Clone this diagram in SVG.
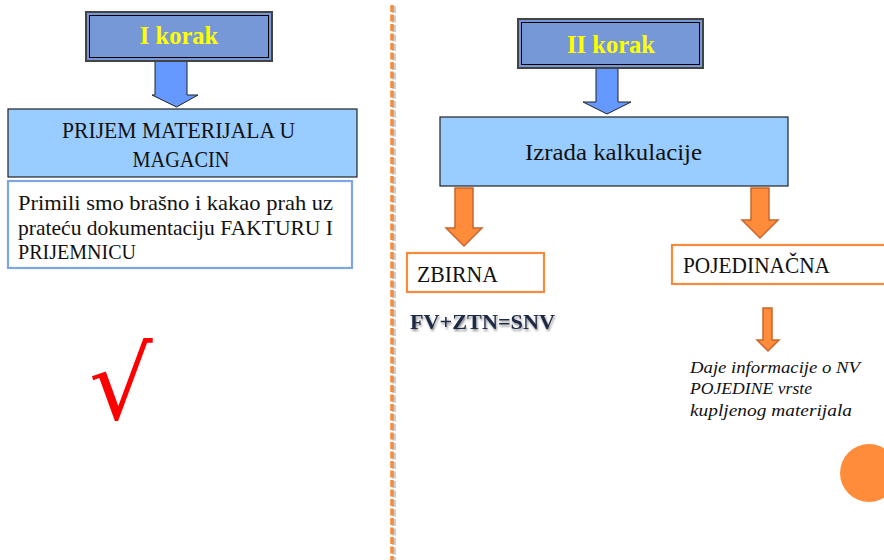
<svg xmlns="http://www.w3.org/2000/svg" width="884" height="560" viewBox="0 0 884 560">
<defs>
<style>
.step{fill:#7698D6;stroke:#444;stroke-width:2}
.stepin{fill:none;stroke:#000;stroke-width:1}
.steptxt{font-family:"Liberation Serif",serif;font-weight:bold;font-size:24.5px;fill:#FFFF00;text-anchor:middle}
.main{fill:#99CCFF;stroke:#222;stroke-width:1.2}
.maintxt{font-family:"Liberation Serif",serif;font-size:24px;fill:#111;text-anchor:middle}
.note{fill:#fff;stroke:#7EA6E0;stroke-width:2.2}
.notetxt{font-family:"Liberation Serif",serif;font-size:21px;fill:#111}
.obox{fill:#fff;stroke:#F58B3B;stroke-width:2.2}
.otxt{font-family:"Liberation Serif",serif;font-size:22.5px;fill:#111}
.barrow{fill:#6699FF;stroke:#222;stroke-width:1}
.oarrow{fill:#FF8C3A;stroke:#C8662C;stroke-width:1.5}
.ital{font-family:"Liberation Serif",serif;font-style:italic;font-size:17.5px;fill:#111}
</style>
<filter id="sh" x="-10%" y="-20%" width="130%" height="150%">
<feGaussianBlur in="SourceAlpha" stdDeviation="1"/>
<feOffset dx="1" dy="1.5" result="b"/>
<feFlood flood-color="#000" flood-opacity="0.45"/>
<feComposite in2="b" operator="in"/>
<feMerge><feMergeNode/><feMergeNode in="SourceGraphic"/></feMerge>
</filter>
</defs>
<rect width="884" height="560" fill="#fff"/>

<g id="divider">
<line x1="393" y1="5" x2="393" y2="560" stroke="#ccc" stroke-width="4" stroke-dasharray="7 2.5" transform="translate(1,1)"/>
<line x1="392" y1="5" x2="392" y2="560" stroke="#F58B3B" stroke-width="3.5" stroke-dasharray="7 2.5"/>
</g>

<g id="connectors">
<polygon class="barrow" points="155,61 187,61 187,95 198,95 176.5,107 152,95 155,95"/>
<polygon class="barrow" points="596,68 618,68 618,102 631,102 607,114 583,102 596,102"/>
<polygon class="oarrow" points="455,188 473,188 473,228 482,228 464,246 446,228 455,228"/>
<polygon class="oarrow" points="751,188 769,188 769,220 778,220 760,238 742,220 751,220"/>
<polygon class="oarrow" points="763,308 772,308 772,340 779,340 768,351 757,340 763,340"/>
</g>

<g id="step1">
<rect class="step" x="86" y="12" width="186" height="49"/>
<rect class="stepin" x="89.5" y="15.5" width="179" height="42"/>
<text class="steptxt" x="179" y="44">I korak</text>
</g>

<g id="prijem">
<rect class="main" x="8" y="109" width="349" height="68"/>
<text class="maintxt" x="178.5" y="138" textLength="233" lengthAdjust="spacingAndGlyphs">PRIJEM MATERIJALA U</text>
<text class="maintxt" x="181" y="167" textLength="97" lengthAdjust="spacingAndGlyphs">MAGACIN</text>
</g>

<g id="note1">
<rect class="note" x="8" y="181" width="344" height="87"/>
<text class="notetxt" x="18" y="210" textLength="315" lengthAdjust="spacingAndGlyphs">Primili smo brašno i kakao prah uz</text>
<text class="notetxt" x="18" y="235" textLength="315" lengthAdjust="spacingAndGlyphs">prateću dokumentaciju FAKTURU I</text>
<text class="notetxt" x="18" y="259" textLength="118" lengthAdjust="spacingAndGlyphs">PRIJEMNICU</text>
</g>

<g id="check">
<text x="89" y="419" font-family="DejaVu Sans,sans-serif" font-size="100" fill="#FF0000">√</text>
</g>

<g id="step2">
<rect class="step" x="518" y="19" width="185" height="49"/>
<rect class="stepin" x="521.5" y="22.5" width="178" height="42"/>
<text class="steptxt" x="611" y="53">II korak</text>
</g>

<g id="izrada">
<rect class="main" x="440" y="117" width="348" height="69"/>
<text class="maintxt" x="613.5" y="160" textLength="177" lengthAdjust="spacingAndGlyphs">Izrada kalkulacije</text>
</g>

<g id="zbirna">
<rect class="obox" x="407" y="253" width="137" height="39"/>
<text class="otxt" x="417" y="282" textLength="81" lengthAdjust="spacingAndGlyphs">ZBIRNA</text>
</g>

<g id="formula">
<text x="410" y="329" font-family="Liberation Serif,serif" font-weight="bold" font-size="21" fill="#1F2A44" filter="url(#sh)" textLength="145" lengthAdjust="spacingAndGlyphs">FV+ZTN=SNV</text>
</g>

<g id="pojedinacna">
<rect class="obox" x="672" y="245" width="220" height="39"/>
<text class="otxt" x="683" y="273" textLength="147" lengthAdjust="spacingAndGlyphs">POJEDINAČNA</text>
</g>

<g id="info">
<text class="ital" x="690" y="373" textLength="170" lengthAdjust="spacingAndGlyphs">Daje informacije o NV</text>
<text class="ital" x="690" y="394" textLength="122" lengthAdjust="spacingAndGlyphs">POJEDINE vrste</text>
<text class="ital" x="690" y="416" textLength="162" lengthAdjust="spacingAndGlyphs">kupljenog materijala</text>
</g>

<g id="circle">
<circle cx="869" cy="473" r="29" fill="#FF8C3A"/>
</g>
</svg>
